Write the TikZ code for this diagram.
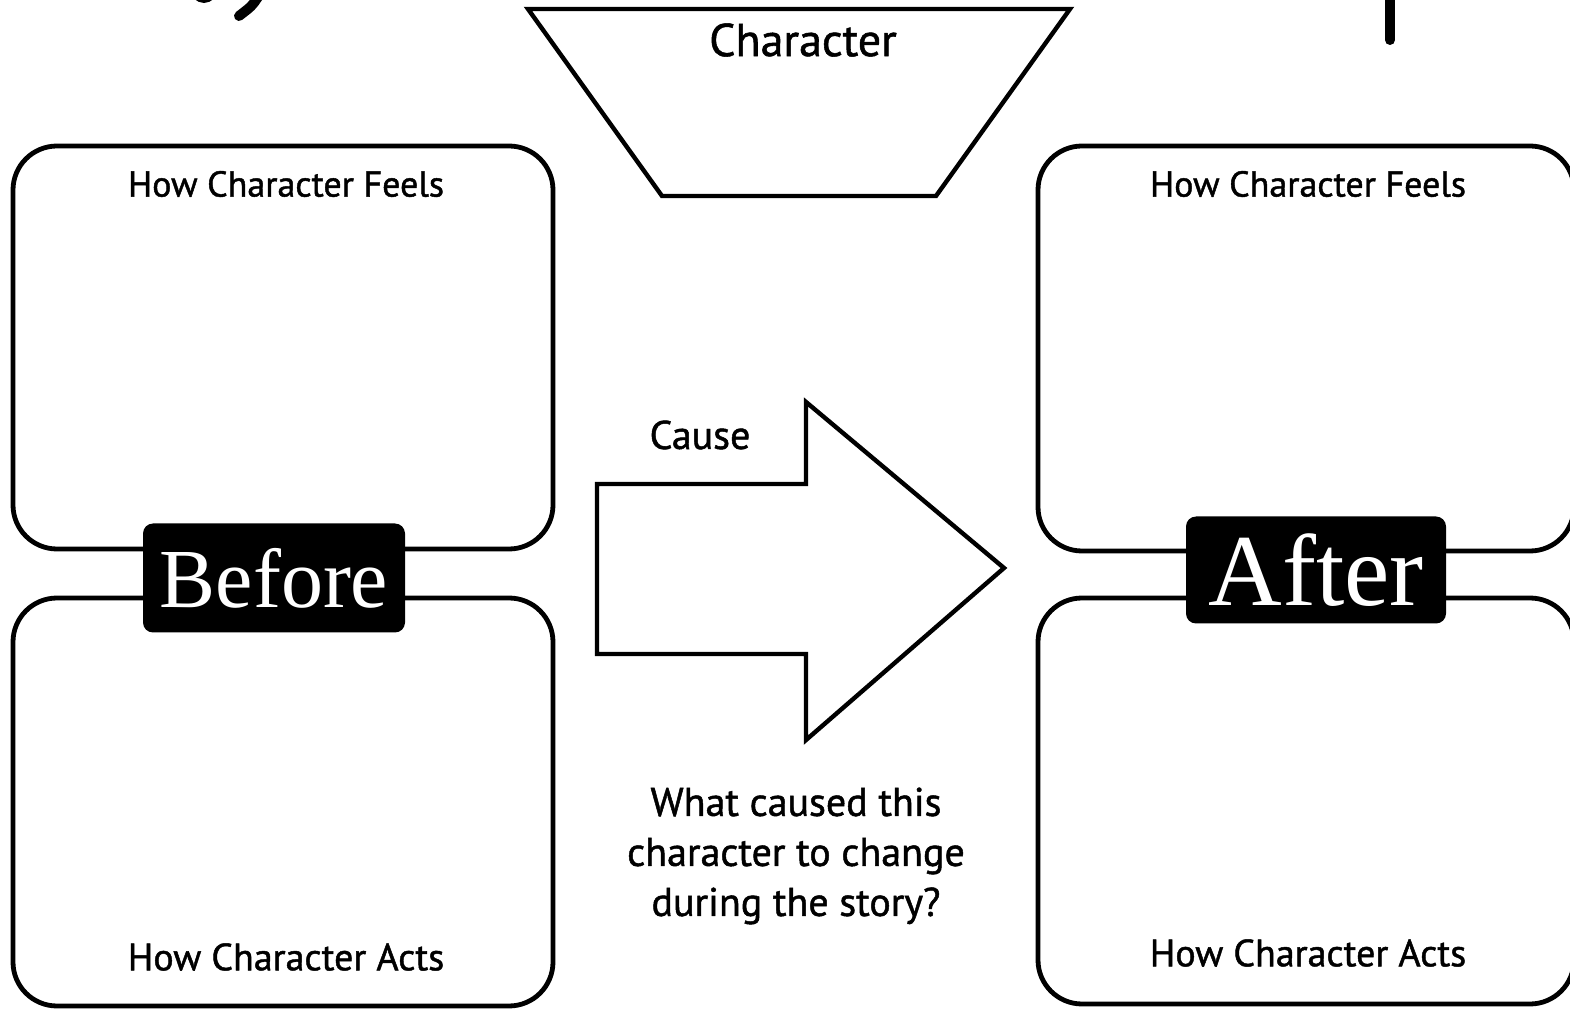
\documentclass[tikz,border=0pt]{standalone}
\usepackage{fontspec}
\setsansfont[FakeBold=1.2]{PT Sans}
\newfontfamily\tagfont{Liberation Serif}
\begin{document}
\begin{tikzpicture}[x=0.5pt,y=-0.5pt,
  box/.style={line width=2.4pt, rounded corners=22pt},
  shapeline/.style={line width=2.2pt, line join=miter},
  lbl/.style={font=\sffamily\fontsize{18}{20}\selectfont},
  actslbl/.style={font=\sffamily\fontsize{19}{21}\selectfont},
  big/.style={font=\sffamily\fontsize{23}{25}\selectfont},
  mid/.style={font=\sffamily\fontsize{20}{25}\selectfont, align=center},
  tag/.style={fill=black, text=white, rounded corners=5pt, inner sep=0pt},
  ink/.style={line width=5pt, line cap=round}]
\useasboundingbox (0,0) rectangle (1570,1010);
\clip (0,0) rectangle (1570,1010);
% handwriting fragments
\draw[ink] (258,-3) .. controls (252,6) .. (239,16);
\draw[line width=1.5pt] (195,-3) .. controls (200,3) and (208,3) .. (213,-3);
\draw[ink] (1390,-5) -- (1390,40);
% boxes
\draw[box] (13,146) rectangle (553,549);
\draw[box] (13,598) rectangle (553,1006);
\draw[box] (1038,146) rectangle (1574,551);
\draw[box] (1038,598) rectangle (1574,1004);
% character trapezoid
\draw[shapeline] (528,9) -- (1070,9) -- (936,196) -- (662,196) -- cycle;
\node[big] (char) at (803,40) {Character};
% arrow
\draw[shapeline] (597,484) -- (806,484) -- (806,402) -- (1004,568) -- (806,740) -- (806,654) -- (597,654) -- cycle;
\node[lbl, font=\sffamily\fontsize{20}{22}\selectfont] (cause) at (700,435) {Cause};
\node[mid] (question) at (796,856) {What caused this\\character to change\\during the story?};
% labels
\node[lbl] (feelsL) at (286,184) {How Character Feels};
\node[actslbl] (actsL) at (286,957) {How Character Acts};
\node[lbl] (feelsR) at (1308,184) {How Character Feels};
\node[actslbl] (actsR) at (1308,953) {How Character Acts};
% tags
\node[tag, minimum width=131pt, minimum height=54.5pt, font=\tagfont\fontsize{42}{42}\selectfont] (before) at (274,578) {Before};
\node[tag, minimum width=130pt, minimum height=53.5pt, font=\tagfont\fontsize{51}{51}\selectfont] (after) at (1316,570) {After};
\end{tikzpicture}
\end{document}
